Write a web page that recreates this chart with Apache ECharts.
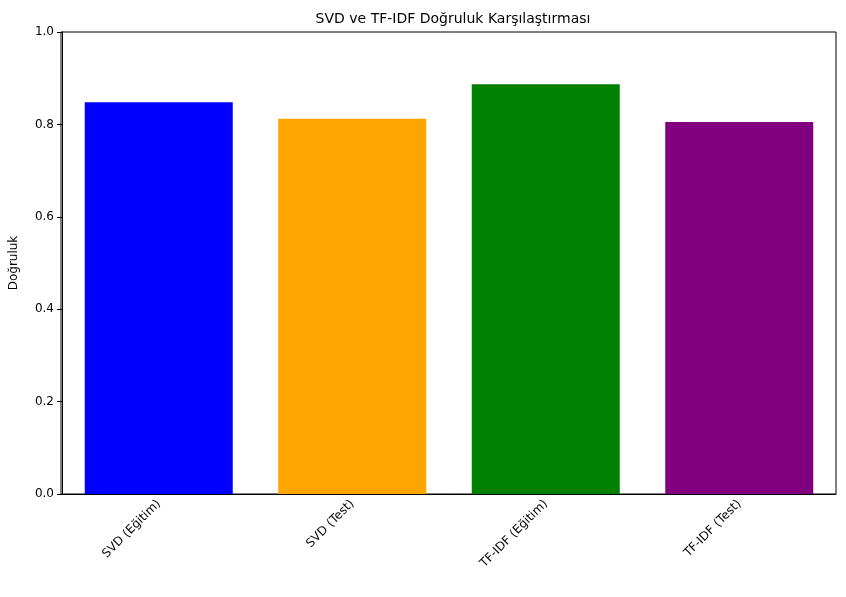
<!DOCTYPE html>
<html>
<head>
<meta charset="utf-8">
<script src="https://cdn.jsdelivr.net/npm/echarts@6/dist/echarts.min.js"></script>
<style>html,body{margin:0;padding:0;background:#fff}#chart{width:846px;height:597px}</style>
</head>
<body>
<div id="chart"></div>
<script>
// kategoriler ve değerler
var categories = ['SVD (Eğitim)', 'SVD (Test)', 'TF-IDF (Eğitim)', 'TF-IDF (Test)'];
var accuracy = [0.848, 0.812, 0.887, 0.805];
var barColors = ['#0000ff', '#ffa500', '#008000', '#800080'];

var chart = echarts.init(document.getElementById('chart'));
var option = {
    animation: false,
    title: {
        text: 'SVD ve TF-IDF Doğruluk Karşılaştırması',
        left: 448, top: 7, textAlign: 'center',
        textStyle: {fontFamily: 'DejaVu Sans', fontSize: 14, fontWeight: 'normal', color: '#000'}
    },
    grid: {left: 61, right: 10, top: 32, bottom: 103},
    xAxis: {
        type: 'category',
        data: categories,
        axisLine: {lineStyle: {color: '#000'}},
        axisTick: {alignWithLabel: true, lineStyle: {color: '#000'}},
        axisLabel: {rotate: 45, color: '#000', fontFamily: 'DejaVu Sans', fontSize: 12, margin: 8}
    },
    yAxis: {
        type: 'value',
        min: 0, max: 1, interval: 0.2,
        name: 'Doğruluk',
        nameLocation: 'middle',
        nameGap: 42,
        nameTextStyle: {color: '#000', fontFamily: 'DejaVu Sans', fontSize: 12},
        splitLine: {show: false},
        axisLine: {show: true, lineStyle: {color: '#000'}},
        axisTick: {show: true, lineStyle: {color: '#000'}},
        axisLabel: {color: '#000', fontFamily: 'DejaVu Sans', fontSize: 12,
            formatter: function (v) { return v.toFixed(1); }}
    },
    series: [{
        type: 'bar',
        barWidth: 148,
        data: accuracy.map(function (v, i) {
            return {value: v, itemStyle: {color: barColors[i]}};
        })
    }]
};
chart.setOption(option);
// çerçeve: üst ve sağ kenar
chart.setOption({
    graphic: [{
        type: 'rect',
        shape: {x: 61, y: 32, width: 775, height: 462},
        style: {fill: 'none', stroke: '#000', lineWidth: 1},
        silent: true
    }]
});
</script>
</body>
</html>
